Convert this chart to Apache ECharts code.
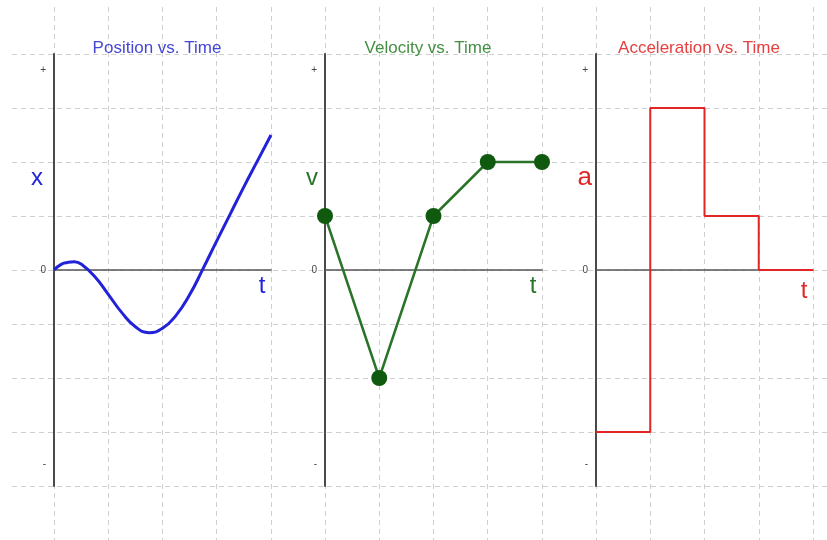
<!DOCTYPE html>
<html>
<head>
<meta charset="utf-8">
<script src="https://cdn.jsdelivr.net/npm/echarts@6/dist/echarts.min.js"></script>
<style>
html, body { margin: 0; padding: 0; background: #fff; }
#main { width: 827px; height: 540px; }
</style>
</head>
<body>
<div id="main"></div>
<script>
// 数据
var titles = ['Position vs. Time', 'Velocity vs. Time', 'Acceleration vs. Time'];
var yNames = ['x', 'v', 'a'];
var xName = 't';
var yTickValues = [-3.6, 0, 3.7];
var yTickLabels = ['-', '0', '+'];

var posT = [0, 0.125, 0.25, 0.375, 0.5, 0.75, 1.0, 1.25, 1.5, 1.75, 2.0, 2.25, 2.5, 2.75, 3.0, 3.25, 3.5, 3.75, 4.0];
var posX = [0, 0.1, 0.14, 0.155, 0.11, -0.12, -0.45, -0.79, -1.05, -1.16, -1.08, -0.84, -0.46, 0.03, 0.54, 1.04, 1.54, 2.02, 2.5];

var velT = [0, 1, 2, 3, 4];
var velV = [1, -2, 1, 2, 2];

var accT = [0, 1, 2, 3, 4];
var accA = [-3, 3, 1, 0, 0];

var colors = ['#2222d8', '#2a742a', '#e22626'];
var titleColors = ['#4646d6', '#438f43', '#e64040'];
var font = 'Liberation Sans, Arial, sans-serif';
var panelLeft = [54, 325, 596];

function pairs(a, b) {
    return a.map(function (v, i) { return [v, b[i]]; });
}

var dash = { color: '#cfcfcf', width: 1, type: [5, 4] };

var grids = [
    { left: 54, top: 7, width: 759, height: 533 },   // 竖向网格线
    { left: 12, top: 54, width: 815, height: 486 }   // 横向网格线
];
var xAxes = [
    { gridIndex: 0, type: 'value', min: 0, max: 14, interval: 1,
      axisLine: { show: false }, axisTick: { show: false }, axisLabel: { show: false },
      splitLine: { show: true, lineStyle: dash } },
    { gridIndex: 1, type: 'value', show: false, min: 0, max: 1 }
];
var yAxes = [
    { gridIndex: 0, type: 'value', show: false, min: 0, max: 1 },
    { gridIndex: 1, type: 'value', min: 0, max: 9, interval: 1,
      axisLine: { show: false }, axisTick: { show: false }, axisLabel: { show: false },
      splitLine: { show: true, lineStyle: dash } }
];
var titleList = [];

var tNamePad = [[4, 0, 0, 0], [4, 0, 0, 0], [9, 0, 0, 0]];
var yNamePad = [[0, 11, 0, 0], [0, 7, 0, 0], [0, 4, 0, 0]];
var yNameSize = [24, 24, 26];

for (var i = 0; i < 3; i++) {
    grids.push({ left: panelLeft[i], top: 54, width: 217, height: 432 });
    xAxes.push({
        gridIndex: i + 2, type: 'value', min: 0, max: 4,
        axisLine: { onZero: true, lineStyle: { color: '#555', width: 1.5 } },
        axisTick: { show: false }, axisLabel: { show: false }, splitLine: { show: false },
        name: xName, nameLocation: 'end', nameGap: -9,
        nameTextStyle: { color: colors[i], fontSize: 24, fontFamily: font,
            align: 'center', verticalAlign: 'top', padding: tNamePad[i] }
    });
    yAxes.push({
        gridIndex: i + 2, type: 'value', min: -4, max: 4,
        axisLine: { show: true, lineStyle: { color: '#4a4a4a', width: 2 } },
        axisTick: { show: false }, splitLine: { show: false },
        axisLabel: {
            customValues: yTickValues, margin: 8, fontSize: 10, color: '#444', fontFamily: font,
            formatter: function (v) { return yTickLabels[yTickValues.indexOf(v)]; }
        },
        name: yNames[i], nameLocation: 'end', nameGap: -124,
        nameTextStyle: { color: colors[i], fontSize: yNameSize[i], fontFamily: font,
            align: 'right', verticalAlign: 'middle', padding: yNamePad[i] }
    });
    titleList.push({
        text: titles[i], left: panelLeft[i] + 103, top: 40, textAlign: 'center', padding: 0,
        textStyle: { color: titleColors[i], fontSize: 17, fontWeight: 'normal', fontFamily: font }
    });
}

var myChart = echarts.init(document.getElementById('main'));
myChart.setOption({
    backgroundColor: '#fff',
    animation: false,
    title: titleList,
    grid: grids,
    xAxis: xAxes,
    yAxis: yAxes,
    series: [
        {
            type: 'line', xAxisIndex: 2, yAxisIndex: 2,
            data: pairs(posT, posX), smooth: 0.5, showSymbol: false,
            lineStyle: { color: colors[0], width: 3 }
        },
        {
            type: 'line', xAxisIndex: 3, yAxisIndex: 3,
            data: pairs(velT, velV), symbol: 'circle', symbolSize: 16,
            lineStyle: { color: colors[1], width: 2.5 },
            itemStyle: { color: '#0f5a0f' }
        },
        {
            type: 'line', xAxisIndex: 4, yAxisIndex: 4,
            data: pairs(accT, accA), step: 'end', showSymbol: false,
            lineStyle: { color: colors[2], width: 2 }
        }
    ]
});
</script>
</body>
</html>
